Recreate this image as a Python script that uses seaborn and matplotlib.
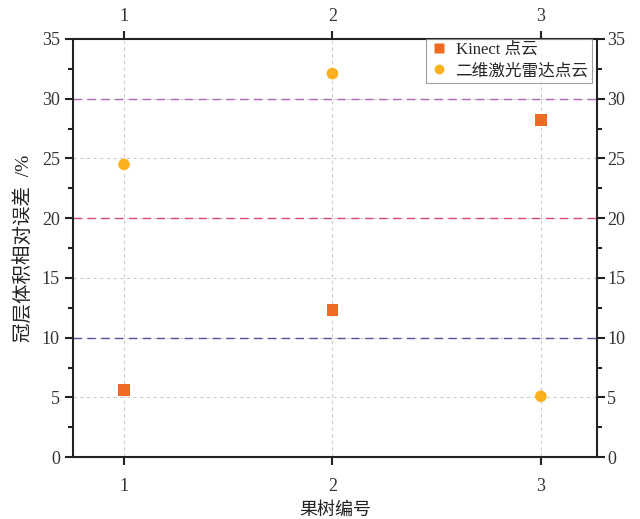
import numpy as np
import pandas as pd
import matplotlib
matplotlib.use("Agg")
import matplotlib.pyplot as plt
import matplotlib.transforms as mtransforms
import seaborn as sns
from matplotlib.ticker import MultipleLocator, FixedLocator

# data
trees = [1, 2, 3]
kinect_err = [5.6, 12.3, 28.2]
lidar_err = [24.5, 32.1, 5.1]
series_names = ["Kinect 点云", "二维激光雷达点云"]
ref_levels = [10, 20, 30]
ref_colors = ["#5b4f9c", "#d9486e", "#b066b8"]

df = pd.DataFrame({
    "tree": trees * 2,
    "err": kinect_err + lidar_err,
    "series": [series_names[0]] * 3 + [series_names[1]] * 3,
})

sns.set_style("white")
plt.rcParams["font.family"] = ["Liberation Serif", "Noto Sans CJK SC"]
plt.rcParams["axes.unicode_minus"] = False

fig = plt.figure(figsize=(6.4, 5.19), dpi=100)
ax = fig.add_axes([0.114, 0.119, 0.819, 0.806])

# reference lines
for lvl, c in zip(ref_levels, ref_colors):
    ax.axhline(lvl, color=c, lw=1.0, ls=(0, (6, 4)), zorder=1)

sns.scatterplot(data=df, x="tree", y="err", hue="series", style="series",
                palette=["#ef6a23", "#fbb01f"], markers=["s", "o"],
                s=70, edgecolor="none", ax=ax, zorder=3)

ax.set_xlim(0.755, 3.27)
ax.set_ylim(0, 35)
ax.xaxis.set_major_locator(FixedLocator(trees))
ax.yaxis.set_major_locator(FixedLocator(list(range(0, 36, 5))))
ax.yaxis.set_minor_locator(MultipleLocator(2.5))
ax.grid(True, which="major", color="#cccccc", ls=(0, (3, 3)), lw=0.8)
ax.set_axisbelow(True)

for sp in ax.spines.values():
    sp.set_visible(True)
    sp.set_color("#222222")
    sp.set_linewidth(1.5)

ax.tick_params(axis="both", which="both", direction="out", colors="#222222",
               labelcolor="#333333", labelsize=13,
               top=True, right=True, labeltop=True, labelright=True,
               bottom=True, left=True)
ax.tick_params(which="major", length=6, width=1.5)
ax.tick_params(which="minor", length=3.5, width=1.5)
ax.tick_params(axis="x", pad=4)

# nudge bottom labels down and right labels inwards
down = mtransforms.ScaledTranslation(0, -7 / 100, fig.dpi_scale_trans)
left = mtransforms.ScaledTranslation(-3 / 100, 0, fig.dpi_scale_trans)
for t in ax.xaxis.get_major_ticks():
    t.label1.set_transform(t.label1.get_transform() + down)
for t in ax.yaxis.get_major_ticks():
    t.label2.set_transform(t.label2.get_transform() + left)

ax.set_xlabel("果树编号", fontsize=13, color="#222222", labelpad=5)
ax.set_ylabel("冠层体积相对误差  /%", fontsize=14, color="#222222", labelpad=6)

leg = ax.legend(loc="upper right", bbox_to_anchor=(0.99, 1.0), fontsize=12,
                frameon=True, fancybox=False, edgecolor="#888888",
                handlelength=1.1, handletextpad=0.45, borderpad=0.2,
                labelspacing=0.3, markerscale=0.85, title=None,
                borderaxespad=0.0)
leg.get_frame().set_linewidth(0.8)

fig.savefig("out.png", dpi=100)
